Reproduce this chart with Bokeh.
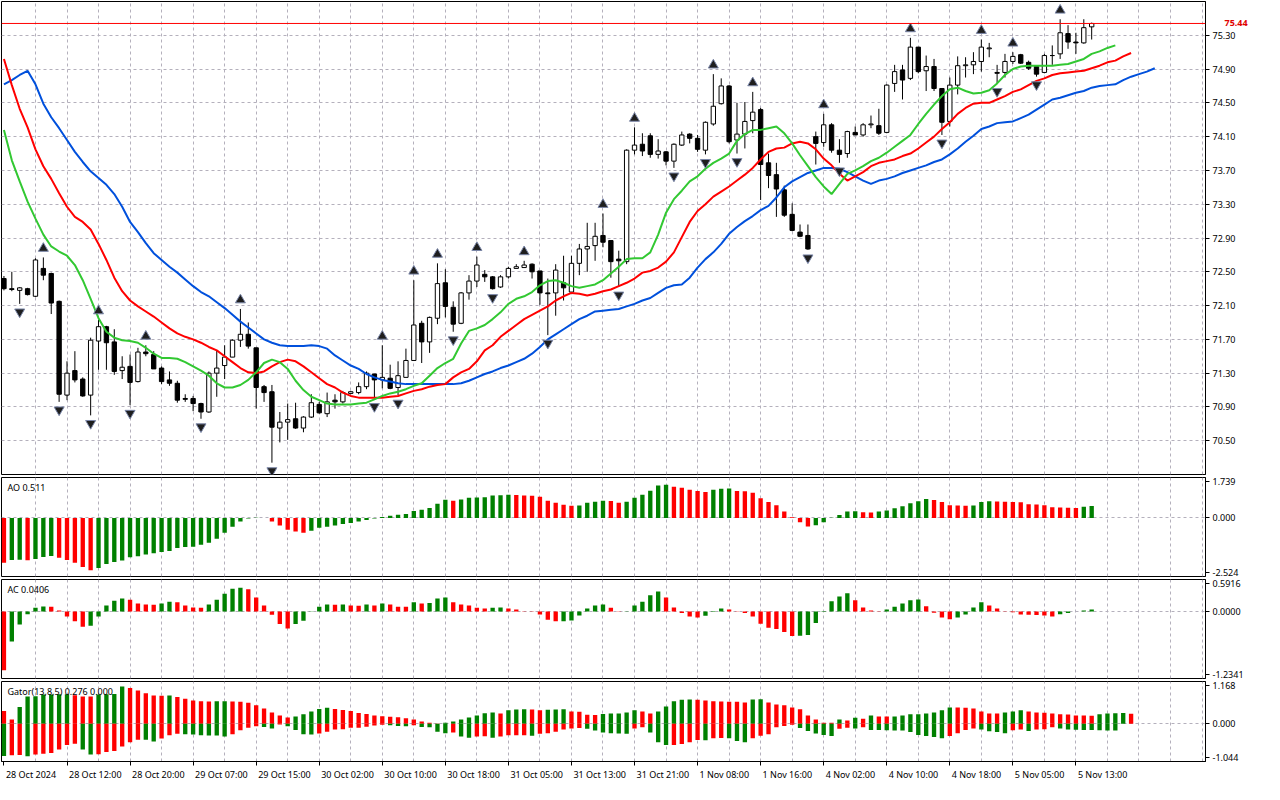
from bokeh.plotting import figure
from bokeh.layouts import column
from bokeh.models import (Range1d, FixedTicker, Label, Span, PrintfTickFormatter, LinearAxis)
from bokeh.embed import file_html
from bokeh.resources import INLINE

FONT = "Noto Sans"
FS = "9px"

# ---------------- data ----------------
price_ticks = [70.50, 70.90, 71.30, 71.70, 72.10, 72.50, 72.90, 73.30, 73.70, 74.10, 74.50, 74.90, 75.30]
time_label_bars = [0, 8, 16, 24, 32, 40, 48, 56, 64, 72, 80, 88, 96, 104, 112, 120, 128, 136]
time_labels = ["28 Oct 2024", "28 Oct 12:00", "28 Oct 20:00", "29 Oct 07:00", "29 Oct 15:00",
               "30 Oct 02:00", "30 Oct 10:00", "30 Oct 18:00", "31 Oct 05:00", "31 Oct 13:00",
               "31 Oct 21:00", "1 Nov 08:00", "1 Nov 16:00", "4 Nov 02:00", "4 Nov 10:00",
               "4 Nov 18:00", "5 Nov 05:00", "5 Nov 13:00"]

opens = [72.42,72.30,72.28,72.30,72.21,72.54,72.48,72.15,71.04,71.33,
71.23,71.04,71.68,71.85,71.67,71.33,71.38,71.20,71.55,71.52,
71.36,71.22,71.18,71.00,71.00,70.94,70.84,71.30,71.39,71.49,
71.69,71.76,71.60,71.14,71.08,70.65,70.72,70.76,70.65,70.78,
70.93,70.82,70.98,70.96,71.06,71.07,71.14,71.29,71.22,71.24,
71.13,71.25,71.45,71.89,71.67,71.95,72.37,72.08,71.89,72.25,
72.39,72.47,72.44,72.32,72.44,72.54,72.55,72.59,72.51,72.25,
72.25,72.37,72.26,72.60,72.77,72.81,72.93,72.87,72.65,72.62,
73.94,74.01,74.11,73.89,73.92,73.81,74.00,74.13,74.08,73.94,
74.25,74.49,74.70,74.06,74.13,74.29,74.42,73.79,73.65,73.47,
73.18,72.97,72.93,74.10,74.03,74.24,73.94,73.90,74.15,74.12,
74.24,74.23,74.15,74.73,74.89,74.79,75.16,74.88,74.93,74.67,
74.28,74.71,74.94,74.95,74.99,75.14,74.86,74.86,74.99,75.07,
74.98,74.93,74.86,75.06,75.08,75.32,75.22,75.21,75.40]
highs = [72.45,72.50,72.32,72.31,72.66,72.67,72.49,72.16,71.44,71.56,
71.25,71.72,71.93,71.86,71.82,71.50,71.52,71.60,71.63,71.56,
71.38,71.32,71.21,71.05,71.03,70.95,71.32,71.57,71.63,71.70,
72.06,71.90,71.60,71.16,71.16,70.84,70.94,70.95,70.79,71.05,
70.96,71.07,71.05,71.09,71.09,71.19,71.32,71.29,71.63,71.40,
71.44,71.59,72.40,71.92,71.97,72.60,72.53,72.15,72.26,72.46,
72.68,72.52,72.45,72.46,72.56,72.59,72.63,72.60,72.51,72.42,
72.59,72.69,72.69,72.83,73.08,73.08,73.19,72.87,72.75,73.95,
74.21,74.14,74.14,74.07,73.93,74.02,74.16,74.14,74.12,74.28,
74.84,74.79,74.71,74.50,74.51,74.63,74.44,73.90,73.79,73.52,
73.31,73.06,73.06,74.16,74.37,74.26,74.07,74.17,74.22,74.26,
74.35,74.43,74.72,74.95,74.95,75.27,75.16,75.06,75.02,74.67,
74.80,75.05,75.04,75.10,75.25,75.21,74.95,75.08,75.10,75.08,
75.00,74.93,75.08,75.18,75.49,75.42,75.33,75.49,75.45]
lows = [72.28,72.27,72.12,72.22,72.20,72.40,72.00,70.96,70.98,71.19,
71.02,70.80,71.34,71.34,71.28,71.23,70.92,71.19,71.50,71.35,
71.17,71.15,70.95,70.96,70.85,70.76,70.83,71.02,71.23,71.49,
71.61,71.59,70.88,70.96,70.24,70.48,70.51,70.64,70.60,70.77,
70.82,70.78,70.88,70.94,71.05,71.05,71.11,71.00,71.12,71.11,
71.04,71.25,71.45,71.42,71.54,71.88,71.96,71.79,71.88,72.17,
72.32,72.38,72.29,72.31,72.42,72.54,72.55,72.42,72.11,71.75,
71.98,72.16,72.25,72.46,72.50,72.63,72.79,72.43,72.32,72.59,
73.89,73.87,73.85,73.84,73.76,73.73,73.99,74.02,73.92,73.89,
74.23,74.48,74.02,73.90,73.96,74.14,73.35,73.49,73.15,73.15,
72.98,72.91,72.76,73.77,73.98,73.91,73.79,73.85,74.12,74.10,
74.20,74.12,74.14,74.63,74.54,74.77,74.85,74.64,74.64,74.12,
74.22,74.60,74.80,74.84,74.87,75.04,74.73,74.80,74.96,74.96,
74.89,74.81,74.85,74.95,75.02,75.14,75.08,75.20,75.25]
closes = [72.30,72.29,72.31,72.23,72.64,72.46,72.13,71.05,71.30,71.22,
71.03,71.69,71.85,71.66,71.32,71.37,71.19,71.55,71.53,71.35,
71.20,71.18,70.98,70.99,70.94,70.84,71.30,71.36,71.49,71.69,
71.76,71.62,71.13,71.07,70.66,70.72,70.75,70.65,70.78,70.95,
70.83,70.96,70.96,71.07,71.08,71.14,71.30,71.22,71.25,71.12,
71.27,71.45,71.87,71.67,71.96,72.36,72.09,71.88,72.25,72.39,
72.58,72.44,72.30,72.44,72.54,72.56,72.58,72.50,72.25,72.24,
72.52,72.31,72.60,72.77,72.80,72.92,72.85,72.62,72.63,73.94,
74.00,73.93,73.89,73.93,73.81,74.01,74.12,74.08,73.95,74.27,
74.46,74.70,74.04,74.13,74.28,74.39,73.77,73.64,73.48,73.17,
72.99,72.92,72.77,74.02,74.24,73.94,73.89,74.16,74.12,74.24,
74.25,74.14,74.71,74.87,74.77,75.16,74.87,74.93,74.67,74.27,
74.71,74.94,74.95,74.99,75.16,75.15,74.85,74.99,75.05,74.97,
74.91,74.84,75.06,75.06,75.33,75.22,75.21,75.39,75.44]

# Alligator (values at their displayed, shifted positions)
jaw = [74.72,74.77,74.83,74.88,74.72,74.49,74.33,74.20,74.06,73.92,
73.80,73.69,73.61,73.53,73.42,73.27,73.09,72.97,72.84,72.72,
72.64,72.56,72.49,72.41,72.33,72.26,72.21,72.14,72.07,71.99,
71.91,71.84,71.77,71.70,71.66,71.63,71.62,71.62,71.62,71.63,
71.62,71.59,71.51,71.45,71.39,71.35,71.29,71.25,71.22,71.20,
71.18,71.17,71.17,71.17,71.17,71.17,71.17,71.17,71.18,71.21,
71.25,71.29,71.32,71.36,71.39,71.43,71.47,71.53,71.61,71.70,
71.76,71.82,71.88,71.94,71.98,72.03,72.04,72.05,72.06,72.09,
72.12,72.16,72.19,72.25,72.31,72.34,72.35,72.43,72.55,72.65,
72.73,72.83,72.95,73.03,73.10,73.16,73.23,73.28,73.38,73.50,
73.57,73.62,73.67,73.70,73.73,73.73,73.72,73.68,73.63,73.58,
73.54,73.58,73.60,73.63,73.67,73.70,73.73,73.76,73.80,73.83,
73.89,73.96,74.04,74.11,74.19,74.22,74.26,74.27,74.28,74.32,
74.36,74.42,74.48,74.54,74.56,74.59,74.62,74.64,74.68,74.70,
74.71,74.72,74.77,74.81,74.84,74.87,74.91]
teeth = [75.02,74.71,74.43,74.21,73.95,73.75,73.60,73.43,73.27,73.15,
73.09,73.00,72.83,72.64,72.43,72.27,72.16,72.09,72.03,71.97,
71.90,71.83,71.77,71.73,71.70,71.66,71.61,71.57,71.50,71.43,
71.36,71.31,71.30,71.32,71.38,71.43,71.46,71.44,71.38,71.31,
71.24,71.17,71.13,71.07,71.03,71.01,71.01,71.01,71.01,71.02,
71.03,71.06,71.09,71.11,71.14,71.16,71.17,71.25,71.31,71.35,
71.44,71.57,71.63,71.73,71.80,71.87,71.94,71.99,72.04,72.09,
72.16,72.21,72.25,72.24,72.22,72.24,72.27,72.29,72.33,72.37,
72.42,72.49,72.51,72.55,72.62,72.73,72.91,73.09,73.22,73.30,
73.39,73.45,73.51,73.58,73.65,73.73,73.83,73.92,73.96,73.97,
74.02,74.04,74.02,73.95,73.84,73.76,73.66,73.58,73.63,73.68,
73.75,73.79,73.81,73.83,73.87,73.90,73.96,74.03,74.10,74.19,
74.27,74.37,74.44,74.49,74.50,74.50,74.54,74.58,74.63,74.66,
74.71,74.76,74.79,74.83,74.85,74.86,74.87,74.88,74.91,74.94,
74.98,75.00,75.05,75.09]
lips = [74.18,73.82,73.57,73.33,73.13,72.94,72.80,72.74,72.69,72.58,
72.40,72.18,71.95,71.79,71.72,71.69,71.68,71.66,71.60,71.53,
71.48,71.48,71.47,71.43,71.38,71.33,71.27,71.18,71.13,71.13,
71.16,71.22,71.31,71.42,71.46,71.43,71.35,71.21,71.10,71.02,
70.98,70.94,70.93,70.93,70.93,70.94,70.95,70.99,71.03,71.06,
71.08,71.11,71.15,71.18,71.27,71.36,71.42,71.47,71.65,71.80,
71.83,71.87,71.94,72.02,72.12,72.18,72.21,72.26,72.34,72.39,
72.40,72.37,72.33,72.31,72.33,72.35,72.40,72.48,72.56,72.65,
72.66,72.66,72.73,72.94,73.20,73.36,73.46,73.57,73.63,73.72,
73.79,73.84,73.90,74.05,74.13,74.18,74.18,74.20,74.22,74.14,
74.02,73.88,73.75,73.62,73.51,73.42,73.54,73.66,73.70,73.75,
73.81,73.85,73.91,73.98,74.05,74.12,74.25,74.37,74.48,74.58,
74.66,74.68,74.64,74.61,74.62,74.65,74.73,74.83,74.90,74.93,
74.94,74.94,74.94,74.94,74.95,74.96,74.99,75.02,75.08,75.11,
75.15,75.18]

fractal_up_bars = [5, 12, 18, 30, 48, 52, 55, 60, 66, 76, 80, 90, 95, 104, 115, 124, 128, 134]
fractal_down_bars = [2, 7, 11, 16, 25, 34, 47, 50, 57, 62, 69, 78, 85, 89, 93, 102, 106, 119, 126, 131]

ao = [-1.93,-1.81,-1.80,-1.82,-1.77,-1.68,-1.64,-1.72,-1.81,-1.93,
-2.12,-2.25,-2.16,-1.99,-1.90,-1.83,-1.70,-1.65,-1.58,-1.52,
-1.47,-1.43,-1.30,-1.25,-1.24,-1.16,-1.07,-0.90,-0.64,-0.38,
-0.16,-0.03,0.01,-0.01,-0.16,-0.33,-0.51,-0.59,-0.64,-0.55,
-0.42,-0.38,-0.33,-0.26,-0.22,-0.16,-0.09,-0.03,0.04,0.09,
0.13,0.17,0.30,0.35,0.43,0.61,0.78,0.74,0.79,0.87,
0.88,0.89,0.96,0.97,1.00,0.99,0.96,0.95,0.91,0.74,
0.65,0.57,0.52,0.53,0.65,0.70,0.74,0.73,0.65,0.70,
0.87,1.00,1.17,1.39,1.43,1.34,1.30,1.21,1.16,1.12,
1.21,1.25,1.26,1.16,1.15,1.08,0.85,0.68,0.54,0.28,
0.03,-0.19,-0.37,-0.32,-0.19,0.01,0.12,0.28,0.29,0.24,
0.23,0.28,0.32,0.41,0.50,0.63,0.72,0.81,0.77,0.68,
0.54,0.53,0.52,0.53,0.68,0.72,0.71,0.70,0.68,0.67,
0.59,0.58,0.54,0.46,0.45,0.44,0.43,0.48,0.511]
ac = [-1.08,-0.55,-0.24,-0.05,0.07,0.095,0.09,0.02,-0.09,-0.18,
-0.28,-0.26,-0.09,0.11,0.20,0.24,0.22,0.15,0.13,0.125,
0.15,0.18,0.17,0.11,0.075,0.07,0.13,0.22,0.33,0.42,
0.44,0.41,0.26,0.11,-0.06,-0.23,-0.31,-0.23,-0.17,0.005,
0.09,0.13,0.128,0.13,0.11,0.108,0.13,0.11,0.15,0.13,
0.09,0.088,0.17,0.15,0.16,0.24,0.26,0.17,0.13,0.11,
0.07,0.055,0.07,0.075,0.055,0.04,0.005,-0.005,-0.055,-0.15,
-0.18,-0.178,-0.165,-0.07,0.055,0.11,0.13,0.07,-0.005,0.005,
0.11,0.18,0.30,0.37,0.26,0.075,-0.025,-0.09,-0.11,-0.075,
0.01,0.055,0.04,-0.005,-0.025,-0.09,-0.225,-0.30,-0.32,-0.375,
-0.45,-0.445,-0.43,-0.21,0.01,0.19,0.28,0.34,0.21,0.075,
0.02,0.005,0.04,0.09,0.15,0.21,0.225,0.10,-0.02,-0.11,
-0.14,-0.11,-0.055,0.075,0.17,0.11,0.055,-0.005,-0.012,-0.055,
-0.06,-0.065,-0.07,-0.09,-0.05,-0.025,0.0,0.02,0.0406]
gator_up = [0.35,0.12,0.46,0.755,0.76,0.81,0.812,0.815,0.818,0.79,
0.755,0.75,0.81,0.815,0.82,1.03,0.99,0.92,0.84,0.78,
0.775,0.78,0.74,0.69,0.645,0.62,0.615,0.62,0.625,0.615,
0.61,0.58,0.51,0.42,0.31,0.23,0.175,0.20,0.26,0.34,
0.41,0.44,0.41,0.38,0.35,0.30,0.27,0.23,0.21,0.19,
0.18,0.155,0.12,0.065,0.03,0.01,0.03,0.06,0.12,0.175,
0.23,0.29,0.31,0.285,0.37,0.395,0.40,0.395,0.37,0.39,
0.395,0.40,0.34,0.33,0.25,0.24,0.27,0.28,0.285,0.31,
0.37,0.34,0.285,0.34,0.48,0.62,0.66,0.67,0.665,0.645,
0.62,0.615,0.61,0.605,0.59,0.67,0.675,0.59,0.535,0.51,
0.45,0.40,0.23,0.12,0.03,0.028,0.12,0.09,0.165,0.14,
0.23,0.20,0.198,0.20,0.23,0.26,0.262,0.285,0.31,0.37,
0.45,0.448,0.445,0.42,0.34,0.285,0.28,0.31,0.34,0.37,
0.34,0.31,0.305,0.285,0.26,0.255,0.23,0.225,0.22,0.26,
0.285,0.29,0.295,0.276]
gator_down = [-0.89,-0.87,-0.865,-0.90,-0.85,-0.83,-0.81,-0.71,-0.59,-0.55,
-0.71,-0.85,-0.845,-0.78,-0.755,-0.63,-0.51,-0.44,-0.445,-0.49,
-0.41,-0.32,-0.28,-0.29,-0.295,-0.32,-0.322,-0.325,-0.35,-0.29,
-0.18,-0.11,-0.07,-0.09,-0.13,-0.02,-0.07,-0.17,-0.29,-0.30,
-0.27,-0.22,-0.16,-0.155,-0.11,-0.108,-0.08,-0.05,-0.03,-0.04,
-0.06,-0.07,-0.04,-0.09,-0.10,-0.22,-0.26,-0.24,-0.35,-0.39,
-0.35,-0.345,-0.39,-0.35,-0.32,-0.318,-0.315,-0.33,-0.28,-0.26,
-0.22,-0.16,-0.13,-0.12,-0.14,-0.19,-0.24,-0.26,-0.27,-0.275,
-0.13,-0.10,-0.24,-0.51,-0.59,-0.585,-0.56,-0.51,-0.45,-0.455,
-0.40,-0.395,-0.40,-0.48,-0.51,-0.40,-0.33,-0.29,-0.10,-0.06,
-0.03,-0.12,-0.20,-0.27,-0.31,-0.34,-0.14,-0.11,-0.13,-0.10,
-0.17,-0.175,-0.18,-0.185,-0.19,-0.23,-0.31,-0.34,-0.37,-0.40,
-0.34,-0.26,-0.175,-0.13,-0.16,-0.21,-0.23,-0.26,-0.18,-0.16,
-0.20,-0.16,-0.15,-0.10,-0.13,-0.16,-0.165,-0.17,-0.175,-0.18,
-0.185,-0.19]

last_price = 75.44
price_lo, price_hi = 70.10, 75.70
ao_max, ao_min = 1.739, -2.524
ac_max, ac_min = 0.5916, -1.2341
gator_max, gator_min = 1.168, -1.044
ao_title = "AO 0.511"
ac_title = "AC 0.0406"
gator_title = "Gator(13,8,5) 0.276 0.000"

# ---------------- style / layout ----------------
GREEN = "#008000"
RED = "#ff0000"
GRID = "#b4b0bc"
FRAME_W = 1204
RB = 58
H_MAIN, H_AO, H_AC, H_GATOR = 473, 99, 99, 80

X0, X1 = -0.31, 152.44
x_range = Range1d(X0, X1)
grid_ticks = list(range(4, 153, 4))
PX_PER_BAR = FRAME_W / (X1 - X0)


def style_axis(ax):
    ax.axis_line_color = "black"
    ax.major_tick_out = 4
    ax.major_tick_in = 0
    ax.minor_tick_line_color = None
    ax.major_tick_line_color = "black"
    ax.major_label_text_font = FONT
    ax.major_label_text_font_size = FS
    ax.major_label_text_color = "black"
    ax.major_label_standoff = 3


def make_fig(h, lo, hi, bottom=2):
    p = figure(frame_width=FRAME_W, frame_height=h, x_range=x_range, y_range=Range1d(lo, hi),
               output_backend="svg", toolbar_location=None, y_axis_location="right",
               x_axis_location=None, min_border_left=1, min_border_right=RB,
               min_border_top=1, min_border_bottom=bottom)
    p.outline_line_color = "black"
    p.outline_line_width = 1
    p.background_fill_color = "white"
    p.border_fill_color = "white"
    p.xgrid.ticker = FixedTicker(ticks=grid_ticks)
    for g in (p.xgrid, p.ygrid):
        g.grid_line_color = GRID
        g.grid_line_dash = "3 3"
        g.grid_line_width = 1
    style_axis(p.yaxis[0])
    return p


def rising_colors(vals, first, magnitude=False):
    cols = [first]
    for i in range(1, len(vals)):
        a, b = vals[i - 1], vals[i]
        if magnitude:
            a, b = abs(a), abs(b)
        cols.append(GREEN if b > a else RED)
    return cols


# ---- main price panel ----
pm = make_fig(H_MAIN, price_lo, price_hi)
pm.yaxis[0].ticker = FixedTicker(ticks=price_ticks)
pm.yaxis[0].formatter = PrintfTickFormatter(format="%.2f")

n = len(opens)
idx = list(range(n))
pm.segment(x0=idx, y0=lows, x1=idx, y1=highs, line_color="black", line_width=1)
bull = [i for i in idx if closes[i] >= opens[i]]
bear = [i for i in idx if closes[i] < opens[i]]
pm.vbar(x=bull, width=0.55, bottom=[opens[i] for i in bull], top=[closes[i] for i in bull],
        fill_color="white", line_color="black", line_width=1)
pm.vbar(x=bear, width=0.55, top=[opens[i] for i in bear], bottom=[closes[i] for i in bear],
        fill_color="black", line_color="black", line_width=1)

pm.line(list(range(len(jaw))), jaw, line_color="#0050dc", line_width=2)
pm.line(list(range(len(teeth))), teeth, line_color="#ff0000", line_width=2)
pm.line(list(range(len(lips))), lips, line_color="#32c832", line_width=2)

ppu = H_MAIN / (price_hi - price_lo)
pm.scatter(x=fractal_up_bars, y=[highs[i] + 9.0 / ppu for i in fractal_up_bars], marker="triangle",
           size=10, fill_color="#1e1e1e", line_color="#7a86a8", line_width=1)
pm.scatter(x=fractal_down_bars, y=[lows[i] - 8.0 / ppu for i in fractal_down_bars], marker="inverted_triangle",
           size=10, fill_color="#1e1e1e", line_color="#7a86a8", line_width=1)

pm.add_layout(Span(location=last_price, dimension="width", line_color="#ff0000", line_width=1))

# current-price marker on the price scale (second right axis with one tick)
pa = LinearAxis(ticker=FixedTicker(ticks=[last_price]), formatter=PrintfTickFormatter(format="%.2f"))
style_axis(pa)
pa.axis_line_color = None
pa.major_tick_line_color = None
pa.major_tick_out = 0
pa.major_label_standoff = -14
pa.major_label_text_color = "#e00000"
pa.major_label_text_font_style = "bold"
pm.add_layout(pa, "right")


# ---- indicator panels ----
def indicator(h, lo, hi, lo_txt, zero_txt, hi_txt, title, bottom=2):
    p = make_fig(h, lo, hi, bottom)
    pu = h / (hi - lo)
    t_hi = round(hi - 4.0 / pu, 3)
    t_lo = round(lo + 4.0 / pu, 3)
    p.yaxis[0].ticker = FixedTicker(ticks=[t_lo, 0, t_hi])
    p.yaxis[0].major_label_overrides = {t_lo: lo_txt, 0: zero_txt, t_hi: hi_txt}
    p.ygrid.ticker = FixedTicker(ticks=[0])
    p.add_layout(Label(x=X0, y=hi, x_offset=6, y_offset=-3, text=title, text_align="left",
                       text_baseline="top", text_font=FONT, text_font_size=FS, text_color="black"))
    return p


pao = indicator(H_AO, ao_min, ao_max, f"{ao_min:.3f}", "0.000", f"{ao_max:.3f}", ao_title)
pao.vbar(x=list(range(len(ao))), width=0.55, top=ao, bottom=0, fill_color=rising_colors(ao, RED),
         line_color=None)

pac = indicator(H_AC, ac_min, ac_max, f"{ac_min:.4f}", "0.0000", f"{ac_max:.4f}", ac_title)
pac.vbar(x=list(range(len(ac))), width=0.55, top=ac, bottom=0, fill_color=rising_colors(ac, RED),
         line_color=None)

pg = indicator(H_GATOR, gator_min, gator_max, f"{gator_min:.3f}", "0.000", f"{gator_max:.3f}", gator_title,
               bottom=23)
pg.vbar(x=list(range(len(gator_up))), width=0.55, top=gator_up, bottom=0,
        fill_color=rising_colors(gator_up, RED), line_color=None)
pg.vbar(x=list(range(len(gator_down))), width=0.55, top=0, bottom=gator_down,
        fill_color=rising_colors(gator_down, GREEN, magnitude=True), line_color=None)

# time axis: tick marks at the labelled bars, text placed to the right of each tick (MT5 style)
CW = {" ": 0.26, ":": 0.266, "O": 0.779, "c": 0.48, "t": 0.361, "N": 0.742, "o": 0.602, "v": 0.501}


def text_px(s):
    return sum(CW.get(ch, 0.572) for ch in s) * 9.0


label_centres = [round(b + (text_px(t) / 2 + 2) / PX_PER_BAR, 3) for b, t in zip(time_label_bars, time_labels)]
xa = LinearAxis(ticker=FixedTicker(ticks=label_centres, minor_ticks=time_label_bars))
xa.major_label_overrides = {c: t for c, t in zip(label_centres, time_labels)}
xa.axis_line_color = "black"
xa.major_tick_out = 4
xa.major_tick_in = 0
xa.major_tick_line_color = None
xa.minor_tick_out = 4
xa.minor_tick_in = 0
xa.minor_tick_line_color = "black"
xa.major_label_standoff = 2
xa.major_label_text_font = FONT
xa.major_label_text_font_size = FS
xa.major_label_text_color = "black"
pg.add_layout(xa, "below")

layout = column(pm, pao, pac, pg, spacing=0)
open("out.html", "w").write(file_html(layout, INLINE))
